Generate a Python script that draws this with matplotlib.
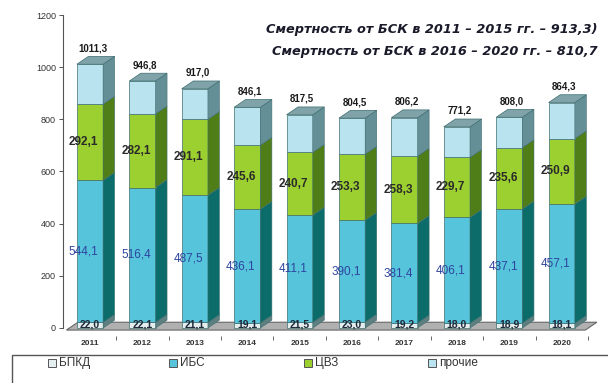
import matplotlib
matplotlib.use("Agg")
import matplotlib.pyplot as plt
from matplotlib.patches import Polygon, Rectangle
import numpy as np

plt.rcParams['font.family'] = ['Liberation Sans', 'DejaVu Sans']

years = ['2011', '2012', '2013', '2014', '2015', '2016', '2017', '2018', '2019', '2020']
totals = [1011.3, 946.8, 917.0, 846.1, 817.5, 804.5, 806.2, 771.2, 808.0, 864.3]
bpkd = [22.0, 22.1, 21.1, 19.1, 21.5, 23.0, 19.2, 18.0, 18.9, 18.1]
ibs = [544.1, 516.4, 487.5, 436.1, 411.1, 390.1, 381.4, 406.1, 437.1, 457.1]
cvz = [292.1, 282.1, 291.1, 245.6, 240.7, 253.3, 258.3, 229.7, 235.6, 250.9]
series_names = ['БПКД', 'ИБС', 'ЦВЗ', 'прочие']
subtitle_lines = ['Смертность от БСК в 2011 – 2015 гг. – 913,3)',
                  'Смертность от БСК в 2016 – 2020 гг. – 810,7']
yticks = [0, 200, 400, 600, 800, 1000, 1200]

other = [t - a - b - c for t, a, b, c in zip(totals, bpkd, ibs, cvz)]

front = ['#E4EEEE', '#56C4DA', '#9CCF30', '#B9E4EF']
side = ['#5E7F80', '#0C6C69', '#4F7D18', '#648F97']
top_col = '#7FA3A8'

fig = plt.figure(figsize=(6.08, 3.83), dpi=100)
ax = fig.add_axes([63 / 608, 1 - 335.8 / 383, 537 / 608, (335.8 - 15) / 383])
ax.set_xlim(-0.515, 9.73)
ax.set_ylim(-30, 1200)

w = 0.5      # front face width
dx = 0.22    # depth offset (x)
dy = 30      # depth offset (y)

# floor
floor = Polygon([(-0.45, -8), (9.45, -8), (9.45 + dx, dy - 8), (-0.45 + dx, dy - 8)],
                closed=True, facecolor='#B0B0B0', edgecolor='#666666', lw=0.8, zorder=1)
ax.add_patch(floor)

x = np.arange(len(years))
stack = [bpkd, ibs, cvz, other]
fmt = lambda v: f'{v:.1f}'.replace('.', ',')
for i in x:
    base = 0.0
    for k, vals in enumerate(stack):
        v = vals[i]
        x0, x1 = i - w / 2, i + w / 2
        ax.add_patch(Rectangle((x0, base), w, v, facecolor=front[k],
                               edgecolor='#3E6E70', lw=0.5, zorder=3))
        ax.add_patch(Polygon([(x1, base), (x1 + dx, base + dy), (x1 + dx, base + v + dy), (x1, base + v)],
                             closed=True, facecolor=side[k], edgecolor='#3E6E70', lw=0.4, zorder=3))
        base += v
    ax.add_patch(Polygon([(i - w / 2, base), (i - w / 2 + dx, base + dy), (i + w / 2 + dx, base + dy),
                          (i + w / 2, base)], closed=True, facecolor=top_col,
                         edgecolor='#3E6E70', lw=0.5, zorder=3))

    ax.text(i + 0.05, totals[i] + dy + 12, fmt(totals[i]), ha='center', va='bottom',
            fontsize=7, fontweight='bold', color='#1A1A1A', zorder=5)
    ax.text(i - 0.12, bpkd[i] + ibs[i] / 2, fmt(ibs[i]), ha='center', va='center',
            fontsize=8.5, color='#2E44A0', zorder=5)
    ax.text(i - 0.12, bpkd[i] + ibs[i] + cvz[i] / 2, fmt(cvz[i]), ha='center', va='center',
            fontsize=8.5, fontweight='bold', color='#2A2A2A', zorder=5)
    ax.text(i, 12, fmt(bpkd[i]), ha='center', va='center',
            fontsize=7.5, fontweight='bold', color='#1F2A3A', zorder=5)

for s in ['top', 'right', 'bottom']:
    ax.spines[s].set_visible(False)
ax.spines['left'].set_bounds(0, 1200)
ax.spines['left'].set_color('#555555')
ax.set_yticks(yticks)
ax.set_yticklabels([str(t) for t in yticks], fontsize=6.5, color='#333333')
ax.tick_params(axis='y', length=3, width=0.7, color='#555555', pad=2)
ax.set_xticks(x)
ax.set_xticklabels(years, fontsize=6, fontweight='bold', color='#333333')
ax.set_xticks(x + 0.5, minor=True)
ax.tick_params(axis='x', which='major', length=0, pad=3)
ax.tick_params(axis='x', which='minor', length=3, width=0.7, color='#666666')

for j, line in enumerate(subtitle_lines):
    fig.text(598 / 608, 1 - (30 + 22 * j) / 383, line, ha='right', va='center',
             fontsize=9.3, fontweight='bold', fontstyle='italic', color='#1A1A2A',
             family=['DejaVu Sans'])

# legend strip
fig.add_artist(Rectangle((12 / 608, -0.05), 0.99, (383 - 355) / 383 + 0.05,
                         transform=fig.transFigure, facecolor='white',
                         edgecolor='#555555', lw=1.0))
leg_x = [52, 173, 308, 432]
for k, name in enumerate(series_names):
    px = leg_x[k]
    fig.add_artist(Rectangle(((px - 4) / 608, 1 - 367 / 383), 8 / 608, 8 / 383,
                             transform=fig.transFigure, facecolor=front[k],
                             edgecolor='#555555', lw=0.7))
    fig.text((px + 7) / 608, 1 - 363 / 383, name, ha='left', va='center',
             fontsize=8.5, color='#333333')

fig.savefig('out.png', dpi=100)
